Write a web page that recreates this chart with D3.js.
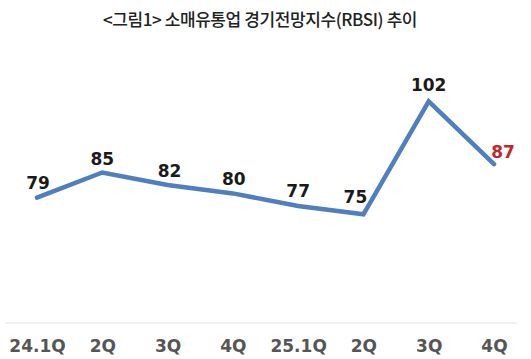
<!DOCTYPE html>
<html>
<head>
<meta charset="utf-8">
<script src="https://cdn.jsdelivr.net/npm/d3@7"></script>
<style>
  html, body { margin: 0; padding: 0; background: #fff; }
  svg { display: block; }
</style>
</head>
<body>
<svg id="chart" width="531" height="359"></svg>
<script>
const title = "<그림1> 소매유통업 경기전망지수(RBSI) 추이";
const categories = ["24.1Q", "2Q", "3Q", "4Q", "25.1Q", "2Q ", "3Q ", "4Q "];
const tickLabels = ["24.1Q", "2Q", "3Q", "4Q", "25.1Q", "2Q", "3Q", "4Q"];
const values = [79, 85, 82, 80, 77, 75, 102, 87];

const W = 531, H = 359;
const svg = d3.select("#chart");

const x = d3.scalePoint().domain(categories).range([37, 494]);
const y = d3.scaleLinear().domain([49, 110]).range([323, 68]);

// title
svg.append("text")
  .attr("x", 260).attr("y", 26)
  .attr("text-anchor", "middle")
  .attr("font-family", "'Noto Sans CJK KR', sans-serif")
  .attr("font-size", 17)
  .attr("font-weight", 500)
  .attr("letter-spacing", -0.4)
  .attr("fill", "#222")
  .text(title);

// baseline axis
const xAxis = d3.axisBottom(x).tickSize(0).tickPadding(17)
  .tickFormat((d, i) => tickLabels[i]);
const gx = svg.append("g").attr("transform", `translate(0,${y(49)})`).call(xAxis);
gx.select(".domain").remove();
gx.append("line").attr("x1", 5).attr("x2", 517).attr("y1", 0).attr("y2", 0)
  .attr("stroke", "#e6e6e6").attr("stroke-width", 1.2);
gx.selectAll(".tick text")
  .attr("font-family", "'DejaVu Sans', Verdana, sans-serif")
  .attr("font-weight", "bold")
  .attr("font-size", 17)
  .attr("fill", "#555");

// line
const line = d3.line().x((d, i) => x(categories[i])).y(d => y(d));
svg.append("path")
  .datum(values)
  .attr("d", line)
  .attr("fill", "none")
  .attr("stroke", "#4f7fbd")
  .attr("stroke-width", 4.5)
  .attr("stroke-linejoin", "miter")
  .attr("stroke-linecap", "round");

// data labels
const labelDx = [1, 0, 2, 1, 0, -8, 0, 9];
const labelDy = [-9, -8, -8, -8, -9, -11, -10, -6];
svg.append("g").selectAll("text")
  .data(values)
  .join("text")
  .attr("x", (d, i) => x(categories[i]) + labelDx[i])
  .attr("y", (d, i) => y(d) + labelDy[i])
  .attr("text-anchor", "middle")
  .attr("font-family", "'DejaVu Sans', Verdana, sans-serif")
  .attr("font-weight", "bold")
  .attr("font-size", 17)
  .attr("fill", (d, i) => i === values.length - 1 ? "#c0272d" : "#1a1a1a")
  .text(d => d);
</script>
</body>
</html>
